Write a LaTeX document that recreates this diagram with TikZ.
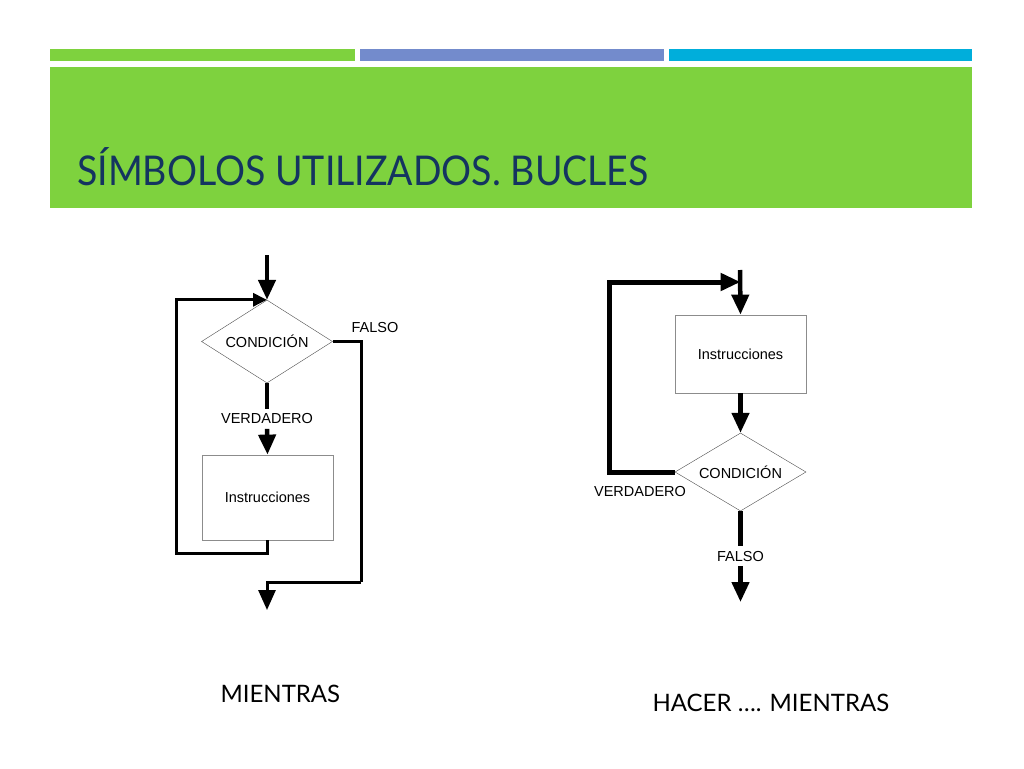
\documentclass[tikz,border=0pt]{standalone}
\usepackage{fontspec}
\setmainfont{Liberation Sans}
\newfontfamily\titlefont{Lato}
\usetikzlibrary{arrows.meta,shapes.geometric,positioning}

\definecolor{slidegreen}{RGB}{126,210,62}
\definecolor{slideblue}{RGB}{115,139,204}
\definecolor{slidecyan}{RGB}{0,174,219}
\definecolor{titlenavy}{RGB}{20,52,96}

\begin{document}
\begin{tikzpicture}[x=1pt,y=-1pt,>={Triangle[length=20pt,width=17pt]},
    font=\fontsize{14.5}{16}\selectfont,
    decision/.style={diamond,draw=black!70,thin,aspect=1.58,inner sep=0pt,
      minimum width=131pt,minimum height=83pt},
    process/.style={rectangle,draw=black!45,line width=0.8pt,
      minimum width=131pt,minimum height=85pt},
    tag/.style={inner sep=4.5pt},
    flow/.style={line width=4.5pt},
    thinflow/.style={line width=3pt},
    caption/.style={anchor=base west,font=\titlefont\fontsize{24}{28}\selectfont}]
  \useasboundingbox (0,0) rectangle (1024,768);

  % header bars
  \fill[slidegreen] (50,49) rectangle (355,61);
  \fill[slideblue] (360,49) rectangle (664,61);
  \fill[slidecyan] (669,49) rectangle (972,61);
  \fill[slidegreen] (50,67) rectangle (972,208);
  \node[anchor=base west,inner sep=0pt,text=titlenavy,
    font=\titlefont\fontsize{41}{48}\selectfont] (title) at (77,185)
    {\scalebox{0.915}[1]{SÍMBOLOS UTILIZADOS. BUCLES}};

  % mientras
  \coordinate (inL) at (267,255);
  \node[decision] (condL) at (267,341.5) {CONDICIÓN};
  \node[tag] (verL) at (267,419) {VERDADERO};
  \node[process] (instL) at (267.5,497.5) {Instrucciones};
  \node[tag] (falsoL) at (375,328) {FALSO};
  \coordinate (loopL) at (176,553);
  \coordinate (falL) at (361,582);
  \coordinate (outL) at (267,610);
  \draw[flow,->] (inL) -- (condL.north);
  \draw[flow] (condL.south) -- (verL.north);
  \draw[flow,->] (verL.south) -- (instL.north);
  \draw[thinflow,-{Triangle[length=14pt,width=13pt]}] (instL.south) |- (loopL) |- (condL.north);
  \draw[thinflow] (condL.east) -| (falL);
  \draw[thinflow,->] (falL) -| (outL);

  % hacer ... mientras
  \coordinate (inR) at (740,270);
  \node[process,minimum height=78pt] (instR) at (740.5,354) {Instrucciones};
  \node[decision,minimum height=78pt,aspect=1.68] (condR) at (740.5,472) {CONDICIÓN};
  \node[tag] (verR) at (640,492) {VERDADERO};
  \node[tag] (falR) at (740.5,556) {FALSO};
  \coordinate (loopR) at (609,282);
  \coordinate (joinR) at (740.5,282);
  \coordinate (outR) at (740.5,602);
  \draw[flow,->] (inR) -- (instR.north);
  \draw[flow,->] (instR.south) -- (condR.north);
  \draw[flow,line width=5pt,->] (condR.west) -| (loopR) -- (joinR);
  \draw[flow] (condR.south) -- (falR.north);
  \draw[flow,->] (falR.south) -- (outR);

  % captions
  \node[caption] (capL) at (217,702) {MIENTRAS};
  \node[caption] (capR) at (649,711) {HACER …. MIENTRAS};
\end{tikzpicture}
\end{document}
